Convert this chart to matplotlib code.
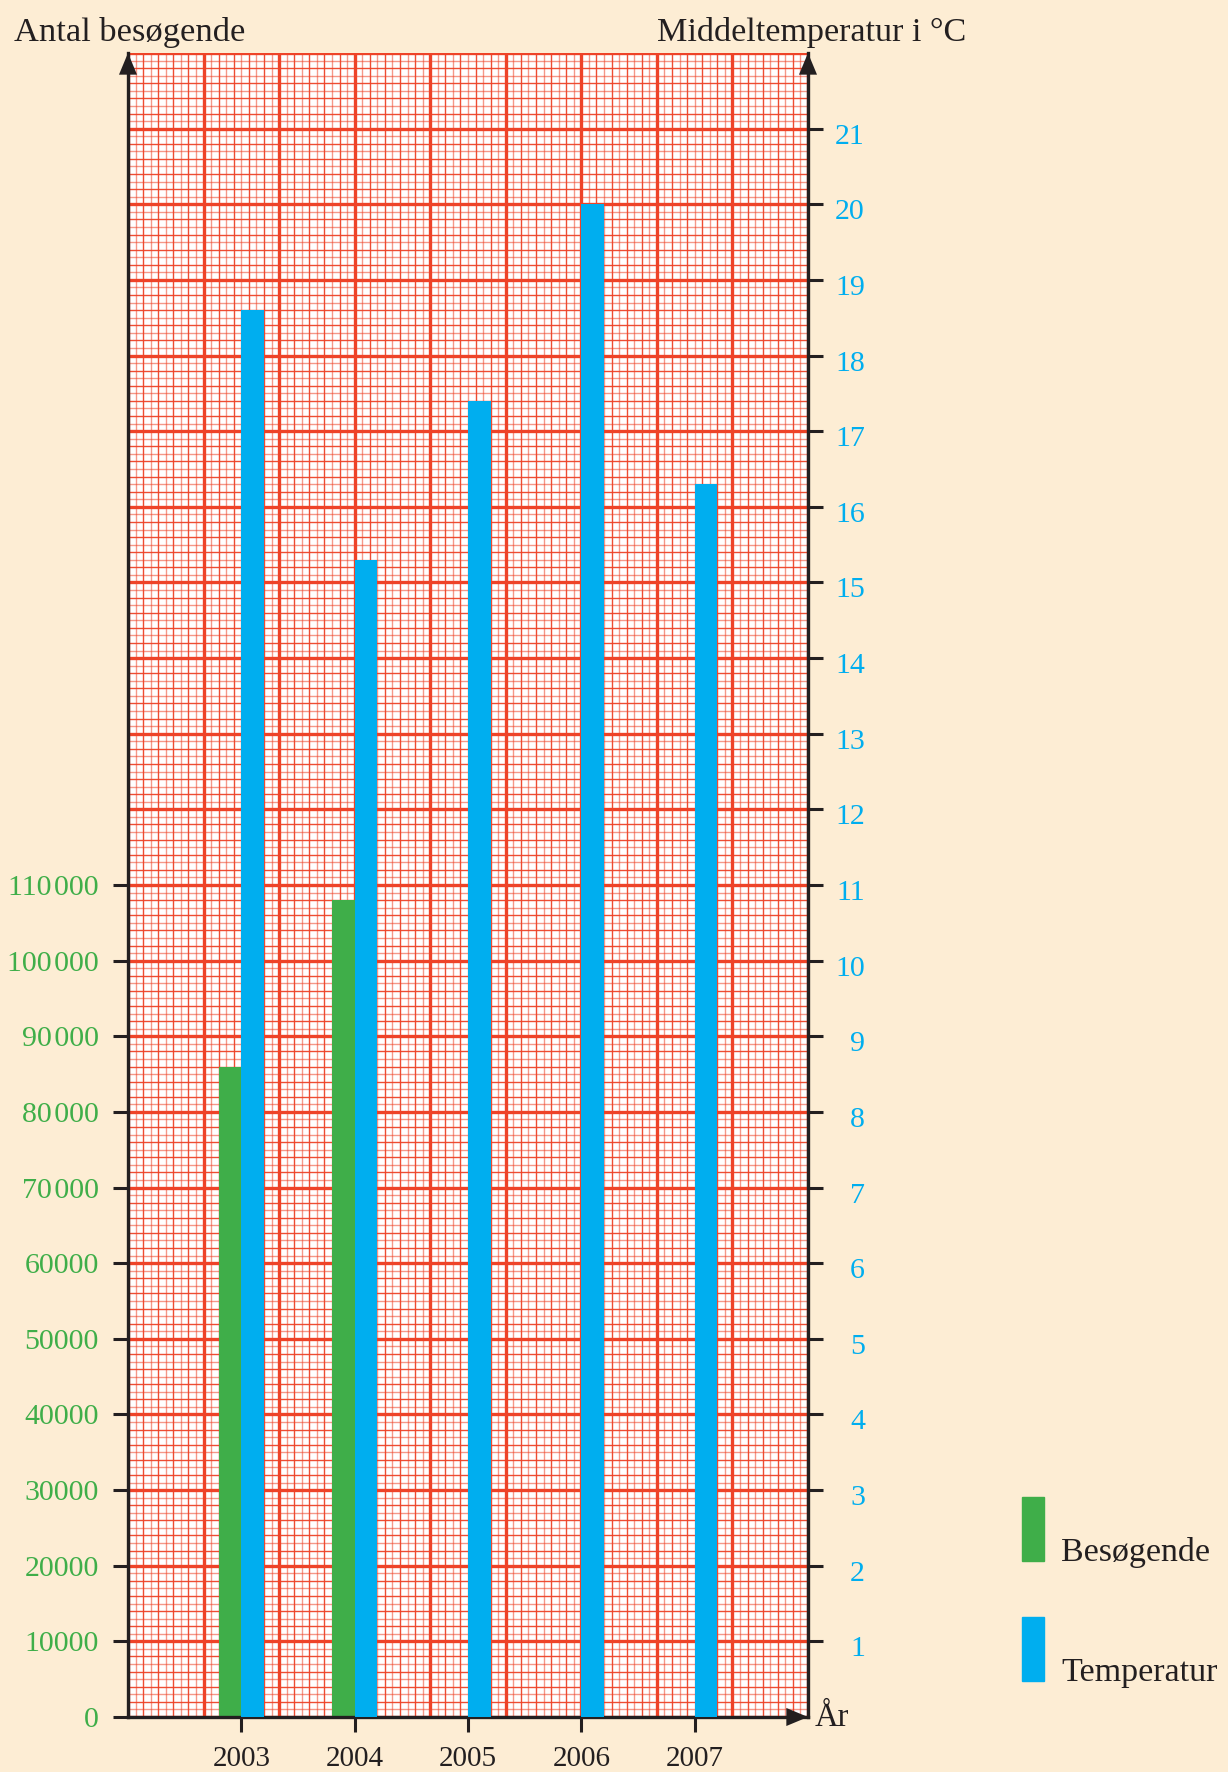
import numpy as np
import matplotlib
matplotlib.use("Agg")
import matplotlib.pyplot as plt
from matplotlib.patches import Rectangle
from matplotlib.transforms import ScaledTranslation

plt.rcParams["font.family"] = ["Liberation Serif", "DejaVu Serif"]

# data
years = ["2003", "2004", "2005", "2006", "2007"]
visitors = [86000, 108000, np.nan, np.nan, np.nan]
temps = [18.6, 15.3, 17.4, 20.0, 16.3]
visitor_ticks = list(range(0, 110001, 10000))
temp_ticks = list(range(0, 22))

BG = "#FDEDD4"
GRID = "#EE4328"
GREEN = "#3FAE49"
BLUE = "#00AEEF"
INK = "#231F20"

W, H = 1228, 1772
fig = plt.figure(figsize=(W / 100, H / 100), dpi=100, facecolor=BG)

L, R, T, B = 128, 808, 53, 1717
ax = fig.add_axes([L / W, (H - B) / H, (R - L) / W, (B - T) / H])
ax.set_facecolor("white")
axt = ax.twinx()

ax.set_xlim(0, 9)
ax.set_ylim(0, 220000)
axt.set_ylim(0, 22)

# graph paper
for i, xv in enumerate(np.arange(0, 9.01, 0.1)):
    if i % 10 == 0:
        continue
    ax.axvline(xv, color=GRID, lw=1.0, alpha=0.95 if i % 2 == 0 else 0.55, zorder=0)
for i, yv in enumerate(np.arange(0, 22.01, 0.1)):
    if i % 10 == 0:
        continue
    ax.axhline(yv * 10000, color=GRID, lw=1.0, alpha=0.95 if i % 2 == 0 else 0.55, zorder=0)
for xv in range(0, 10):
    ax.axvline(xv, color=GRID, lw=2.4, zorder=0.5)
for yv in range(0, 23):
    ax.axhline(yv * 10000, color=GRID, lw=2.4, zorder=0.5)

# bars
xpos = 1.5 + 1.5 * np.arange(len(years))
bw = 0.3
ax.bar(xpos - bw / 2, visitors, width=bw, color=GREEN, zorder=3)
axt.bar(xpos + bw / 2, temps, width=bw, color=BLUE, zorder=3)

# axes / spines
for s in ["top", "right"]:
    ax.spines[s].set_visible(False)
for s in ["top", "left", "bottom"]:
    axt.spines[s].set_visible(False)
for sp in [ax.spines["left"], ax.spines["bottom"], axt.spines["right"]]:
    sp.set_linewidth(2.4)
    sp.set_color(INK)
    sp.set_zorder(5)

ax.set_xticks(xpos)
ax.set_xticklabels(years, fontsize=21, color=INK)
ax.tick_params(axis="x", direction="out", length=11, width=2.2, color=INK, pad=10)

ax.set_yticks(visitor_ticks)
ax.set_yticklabels([f"{v // 1000}\u200a000" if v >= 70000 else f"{v}" for v in visitor_ticks],
                   fontsize=21.5, color=GREEN)
ax.tick_params(axis="y", direction="out", length=11, width=2.2, color=INK, pad=10)

axt.set_yticks(temp_ticks[1:])
axt.set_yticklabels([str(t) for t in temp_ticks[1:]], fontsize=21.5, color=BLUE)
axt.tick_params(axis="y", direction="out", length=11, width=2.2, color=INK, pad=30)
shift = ScaledTranslation(0, -5 / 100, fig.dpi_scale_trans)
for lab in axt.get_yticklabels():
    lab.set_horizontalalignment("right")
    lab.set_transform(lab.get_transform() + shift)

# arrows
arr = dict(arrowstyle="-|>,head_length=0.6,head_width=0.25", color=INK, lw=0,
           mutation_scale=26, shrinkA=0, shrinkB=0)
ax.annotate("", xy=(0, 1.0), xytext=(0, 0.98), xycoords="axes fraction", arrowprops=arr, zorder=6)
ax.annotate("", xy=(1, 1.0), xytext=(1, 0.98), xycoords="axes fraction", arrowprops=arr, zorder=6)
ax.annotate("", xy=(1.0, 0), xytext=(0.96, 0), xycoords="axes fraction", arrowprops=arr, zorder=6)

# titles
fig.text(14 / W, 1 - 41.5 / H, "Antal besøgende", fontsize=24.8, color=INK, va="baseline", ha="left")
fig.text(657 / W, 1 - 41 / H, "Middeltemperatur i °C", fontsize=24.6, color=INK, va="baseline", ha="left")
fig.text(815 / W, 1 - 1726 / H, "År", fontsize=23.5, color=INK, va="baseline", ha="left")

# legend
for (top, col, txt) in [(1497, GREEN, "Besøgende"), (1617, BLUE, "Temperatur")]:
    fig.patches.append(Rectangle((1021.5 / W, 1 - (top + 64) / H), 22.8 / W, 64 / H,
                                 transform=fig.transFigure, color=col, zorder=3))
    fig.text(1061 / W, 1 - (top + 64) / H, txt, fontsize=24.5, color=INK, va="baseline", ha="left")

fig.savefig("out.png", dpi=100, facecolor=BG)
